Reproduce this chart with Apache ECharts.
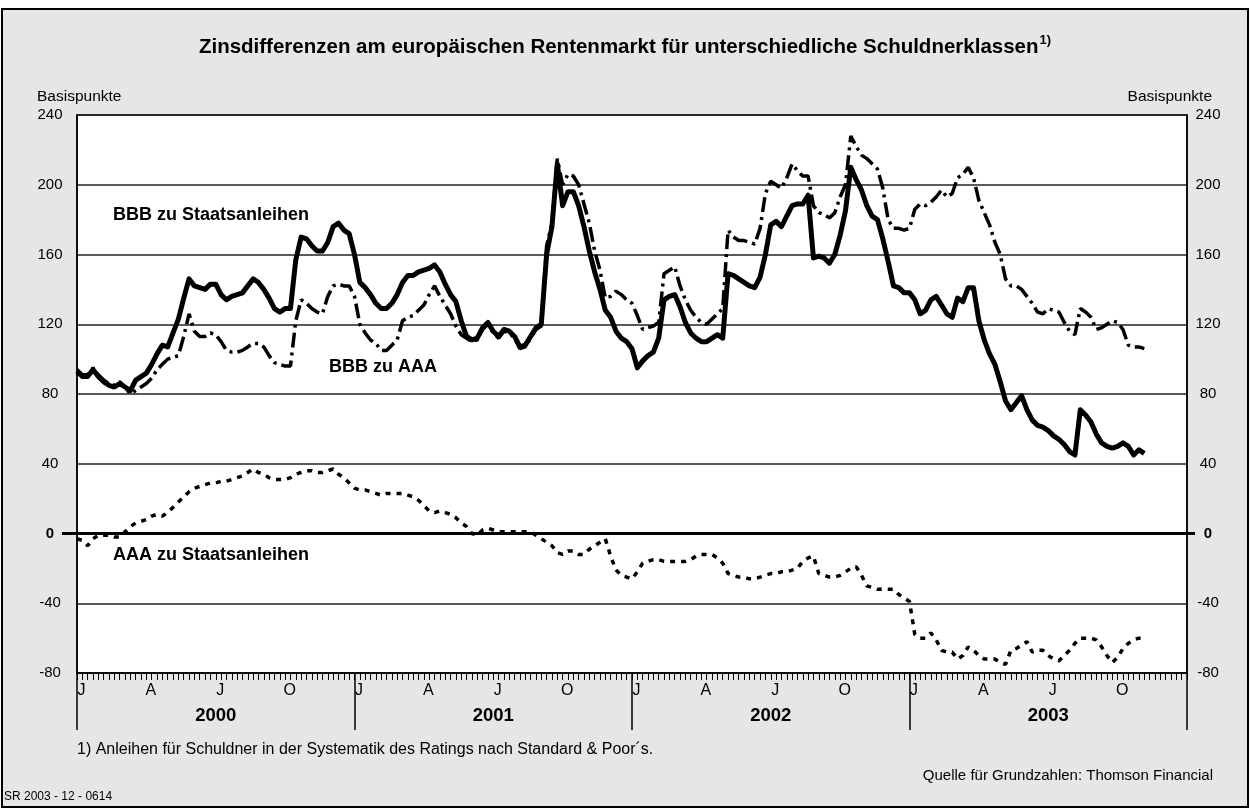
<!DOCTYPE html>
<html>
<head>
<meta charset="utf-8">
<script src="https://cdn.jsdelivr.net/npm/echarts@6/dist/echarts.min.js"></script>
<style>
  html, body { margin: 0; padding: 0; background: #fff; }
  #echart { width: 1250px; height: 809px; }
</style>
</head>
<body>
<div id="echart"></div>
<script>
// weekly values, week 0 = first week of January 2000
var bbbStaat = [
  93,90,90,94,90,87,85,84,86,84,
  82,88,90,92,97,103,108,107,115,123,
  135,146,142,141,140,143,143,137,134,136,
  137,138,142,146,144,140,135,129,127,129,
  129,157,170,169,165,162,162,167,176,178,
  174,172,160,144,141,137,132,129,129,132,
  137,144,148,148,150,151,152,154,150,143,
  137,133,122,113,111,112,118,121,116,113,
  117,116,113,107,108,113,118,120,160,176,
  212,188,196,196,188,176,162,150,140,128,
  124,116,112,110,106,95,99,102,104,112,
  134,136,137,130,121,115,112,110,110,112,
  114,112,149,148,146,144,142,141,147,160,
  177,179,176,182,188,189,189,194,158,159,
  158,155,160,171,185,210,203,197,188,182,
  180,169,156,142,141,138,138,134,126,128,
  134,136,131,126,124,135,133,141,141,122,
  111,103,97,87,76,71,75,79,71,65,
  62,61,59,56,54,51,47,45,71,68,
  64,57,52,50,49,50,52,50,45,48,
  46
];

var bbbAaa = [
  94,91,91,95,91,88,86,85,87,84,
  80,82,84,86,89,94,97,100,101,102,
  113,126,116,113,113,115,114,110,105,104,
  104,105,107,109,109,107,102,98,97,96,
  96,122,134,132,129,127,126,136,142,143,
  142,142,136,120,115,111,109,105,105,108,
  111,122,124,125,128,131,137,142,136,131,
  126,119,114,112,110,111,117,120,115,112,
  116,115,112,106,107,112,117,119,165,178,
  215,200,206,205,200,189,178,162,151,135,
  136,139,137,134,132,125,117,118,119,121,
  149,151,153,142,134,128,124,121,120,123,
  126,129,174,170,168,168,167,166,175,195,
  202,200,198,204,212,208,205,205,188,184,
  183,181,184,193,200,228,222,217,215,212,
  209,198,180,175,175,174,175,186,189,188,
  190,193,197,193,195,204,206,210,204,191,
  184,177,167,160,146,142,142,140,136,132,
  127,126,129,128,127,121,116,114,129,127,
  124,117,118,120,122,121,117,108,107,107,
  106
];

var aaaStaat = [
  -3,-4,-7,-3,-1,-1,-1,-2,-2,1,
  4,6,7,8,10,11,10,12,15,18,
  21,24,26,27,28,29,29,30,30,31,
  32,33,35,37,35,34,32,31,31,31,
  32,34,35,36,36,35,35,36,37,34,
  32,29,26,25,25,24,23,22,23,23,
  23,23,22,21,19,16,13,12,13,12,
  11,9,6,4,0,-1,2,3,2,1,
  1,1,1,1,1,1,-1,-3,-5,-7,
  -11,-12,-10,-10,-12,-12,-9,-7,-5,-3,
  -13,-21,-24,-25,-26,-22,-17,-16,-15,-15,
  -16,-16,-16,-16,-16,-15,-13,-12,-12,-12,
  -14,-17,-23,-24,-25,-25,-26,-26,-25,-24,
  -23,-23,-22,-22,-21,-20,-16,-14,-13,-23,
  -24,-25,-25,-24,-22,-20,-19,-24,-30,-31,
  -32,-32,-32,-32,-35,-37,-39,-58,-60,-60,
  -57,-61,-67,-68,-68,-72,-70,-65,-67,-70,
  -72,-72,-72,-74,-75,-67,-66,-64,-62,-68,
  -67,-67,-70,-72,-73,-70,-67,-63,-60,-60,
  -60,-61,-65,-70,-74,-71,-66,-63,-61,-60,
  -60
];

var years = ['2000', '2001', '2002', '2003'];
var quarterLabels = ['J', 'A', 'J', 'O'];
var yTicks = [-80, -40, 0, 40, 80, 120, 160, 200, 240];

var FONT = '"Liberation Sans", Arial, Helvetica, sans-serif';
var WEEKS_PER_YEAR = 52;
var TOTAL_WEEKS = WEEKS_PER_YEAR * years.length;

function pairs(arr) {
  return arr.map(function (v, i) { return [i, v]; });
}

function yLabel(v) {
  return v === 0 ? '{z|0}' : String(v);
}

var myChart = echarts.init(document.getElementById('echart'), null, { renderer: 'canvas' });

var baseX = { type: 'value', min: 0, max: TOTAL_WEEKS, position: 'bottom', splitLine: { show: false } };

function yAxisDef(pos, margin) {
  return {
    type: 'value', position: pos, min: yTicks[0], max: yTicks[yTicks.length - 1], interval: 40,
    axisLine: { show: true, onZero: false, lineStyle: { color: '#000', width: 1.5 } },
    axisTick: { show: false },
    splitLine: { show: pos === 'left', lineStyle: { color: '#222', width: 1.5 } },
    axisLabel: {
      margin: margin, align: 'center', fontFamily: FONT, fontSize: 15, color: '#000',
      formatter: yLabel, rich: { z: { fontFamily: FONT, fontSize: 15, fontWeight: 'bold', color: '#000' } }
    }
  };
}

var option = {
  backgroundColor: '#ffffff',
  animation: false,
  textStyle: { fontFamily: FONT },
  title: {
    text: '{t|Zinsdifferenzen am europäischen Rentenmarkt für unterschiedliche Schuldnerklassen}{s|1)}',
    left: 'center',
    top: 29,
    textStyle: {
      rich: {
        t: { fontFamily: FONT, fontSize: 20.5, fontWeight: 'bold', color: '#000', lineHeight: 26 },
        s: { fontFamily: FONT, fontSize: 13, color: '#000', verticalAlign: 'top', lineHeight: 26, padding: [0, 0, 10, 1] }
      }
    }
  },
  grid: {
    left: 77, right: 63, top: 115, bottom: 136,
    show: true, backgroundColor: '#ffffff', borderColor: '#000', borderWidth: 1.5
  },
  xAxis: [
    Object.assign({}, baseX, {
      interval: 1,
      axisLine: { show: true, onZero: false, lineStyle: { color: '#000', width: 1.5 } },
      axisTick: { show: true, length: 7, lineStyle: { color: '#000', width: 1 } },
      axisLabel: { show: false }
    }),
    Object.assign({}, baseX, {
      interval: 13,
      axisLine: { show: false, onZero: false },
      axisTick: { show: false },
      axisLabel: {
        show: true, margin: 10, fontFamily: FONT, fontSize: 16, color: '#000',
        padding: [0, 0, 0, 9],
        formatter: function (v) {
          if (v >= TOTAL_WEEKS) return '';
          return quarterLabels[Math.round(v / 13) % 4];
        }
      }
    }),
    Object.assign({}, baseX, {
      interval: WEEKS_PER_YEAR,
      axisLine: { show: false, onZero: false },
      axisTick: { show: true, length: 57, lineStyle: { color: '#000', width: 1.5 } },
      axisLabel: { show: false }
    }),
    Object.assign({}, baseX, {
      interval: WEEKS_PER_YEAR / 2,
      axisLine: { show: false, onZero: false },
      axisTick: { show: false },
      axisLabel: {
        show: true, margin: 33, fontFamily: FONT, fontSize: 18.5, fontWeight: 'bold', color: '#000',
        formatter: function (v) {
          var k = Math.round(v / (WEEKS_PER_YEAR / 2));
          return k % 2 === 1 ? years[(k - 1) / 2] : '';
        }
      }
    })
  ],
  yAxis: [yAxisDef('left', 27), yAxisDef('right', 21)],
  graphic: [
    { type: 'rect', z: -100, shape: { x: 2, y: 9, width: 1246, height: 798 },
      style: { fill: '#e6e6e6', stroke: '#000', lineWidth: 2 } },
    { type: 'text', x: 37, y: 97, style: { text: 'Basispunkte', font: '15.5px ' + FONT, fill: '#000', textAlign: 'left', textVerticalAlign: 'middle' } },
    { type: 'text', x: 1212, y: 97, style: { text: 'Basispunkte', font: '15.5px ' + FONT, fill: '#000', textAlign: 'right', textVerticalAlign: 'middle' } },
    { type: 'text', x: 113, y: 215, z: 50, style: { text: 'BBB zu Staatsanleihen', font: 'bold 18px ' + FONT, fill: '#000', textAlign: 'left', textVerticalAlign: 'middle' } },
    { type: 'text', x: 329, y: 367, z: 50, style: { text: 'BBB zu AAA', font: 'bold 18px ' + FONT, fill: '#000', textAlign: 'left', textVerticalAlign: 'middle' } },
    { type: 'text', x: 113, y: 555, z: 50, style: { text: 'AAA zu Staatsanleihen', font: 'bold 18px ' + FONT, fill: '#000', textAlign: 'left', textVerticalAlign: 'middle' } },
    { type: 'text', x: 77, y: 750, style: { text: '1) Anleihen für Schuldner in der Systematik des Ratings nach Standard & Poor´s.', font: '16px ' + FONT, fill: '#000', textAlign: 'left', textVerticalAlign: 'middle' } },
    { type: 'text', x: 1213, y: 776, style: { text: 'Quelle für Grundzahlen: Thomson Financial', font: '15px ' + FONT, fill: '#000', textAlign: 'right', textVerticalAlign: 'middle' } },
    { type: 'text', x: 4, y: 797, style: { text: 'SR 2003 - 12 - 0614', font: '12px ' + FONT, fill: '#000', textAlign: 'left', textVerticalAlign: 'middle' } }
  ],
  series: [
    {
      name: 'AAA zu Staatsanleihen', type: 'line', xAxisIndex: 0, yAxisIndex: 0,
      data: pairs(aaaStaat), showSymbol: false, symbol: 'none',
      lineStyle: { color: '#000', width: 3.5, type: [5, 6] },
      markLine: {
        silent: true, symbol: 'none', label: { show: false },
        lineStyle: { color: '#000', width: 3, type: 'solid' },
        data: [{ yAxis: 0 }]
      }
    },
    {
      name: 'BBB zu AAA', type: 'line', xAxisIndex: 0, yAxisIndex: 0,
      data: pairs(bbbAaa), showSymbol: false, symbol: 'none',
      lineStyle: { color: '#000', width: 3.5, type: [15, 5, 3, 5] }
    },
    {
      name: 'BBB zu Staatsanleihen', type: 'line', xAxisIndex: 0, yAxisIndex: 0,
      data: pairs(bbbStaat), showSymbol: false, symbol: 'none',
      lineStyle: { color: '#000', width: 5, type: 'solid', join: 'round' }
    }
  ]
};
myChart.setOption(option);

// short extension of the zero line beyond both plot edges
var zeroY = myChart.convertToPixel({ yAxisIndex: 0 }, 0);
var leftX = myChart.convertToPixel({ xAxisIndex: 0 }, 0);
var rightX = myChart.convertToPixel({ xAxisIndex: 0 }, TOTAL_WEEKS);
option.graphic.push(
  { type: 'line', z: 60, shape: { x1: leftX - 15, y1: zeroY, x2: leftX, y2: zeroY }, style: { stroke: '#000', lineWidth: 3 } },
  { type: 'line', z: 60, shape: { x1: rightX, y1: zeroY, x2: rightX + 8, y2: zeroY }, style: { stroke: '#000', lineWidth: 3 } }
);
myChart.setOption({ graphic: option.graphic });
</script>
</body>
</html>
